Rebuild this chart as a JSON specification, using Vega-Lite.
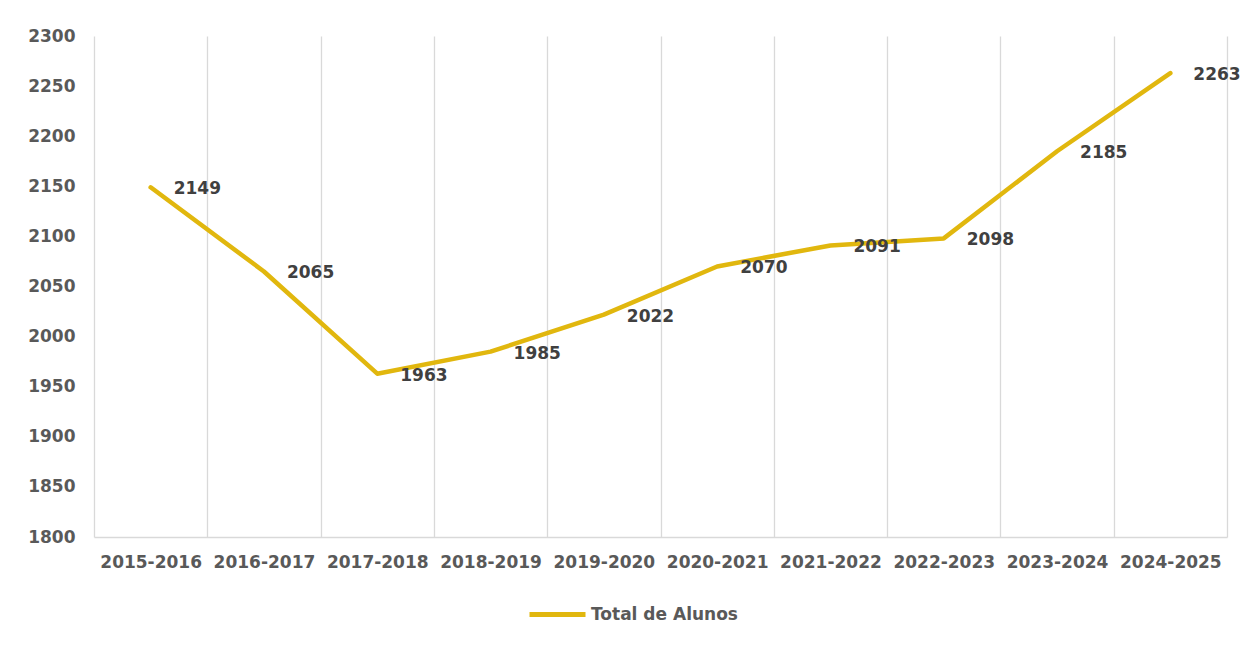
{
  "$schema": "https://vega.github.io/schema/vega-lite/v6.json",
  "width": 1133,
  "height": 501,
  "autosize": {"type": "none"},
  "padding": {"left": 94, "top": 36, "right": 28, "bottom": 109},
  "background": "white",
  "config": {
    "view": {"stroke": null},
    "font": "DejaVu Sans"
  },
  "data": {
    "values": [
      {"ano": "2015-2016", "alunos": 2149, "serie": "Total de Alunos"},
      {"ano": "2016-2017", "alunos": 2065, "serie": "Total de Alunos"},
      {"ano": "2017-2018", "alunos": 1963, "serie": "Total de Alunos"},
      {"ano": "2018-2019", "alunos": 1985, "serie": "Total de Alunos"},
      {"ano": "2019-2020", "alunos": 2022, "serie": "Total de Alunos"},
      {"ano": "2020-2021", "alunos": 2070, "serie": "Total de Alunos"},
      {"ano": "2021-2022", "alunos": 2091, "serie": "Total de Alunos"},
      {"ano": "2022-2023", "alunos": 2098, "serie": "Total de Alunos"},
      {"ano": "2023-2024", "alunos": 2185, "serie": "Total de Alunos"},
      {"ano": "2024-2025", "alunos": 2263, "serie": "Total de Alunos"}
    ]
  },
  "encoding": {
    "x": {
      "field": "ano",
      "type": "nominal",
      "sort": null,
      "scale": {"paddingInner": 0, "paddingOuter": 0},
      "axis": {
        "title": null,
        "labelAngle": 0,
        "tickBand": "extent",
        "ticks": false,
        "grid": true,
        "gridColor": "#D9D9D9",
        "gridWidth": 1.3,
        "domainColor": "#D9D9D9",
        "domainWidth": 1.3,
        "labelFont": "DejaVu Sans",
        "labelFontSize": 17,
        "labelFontWeight": "bold",
        "labelColor": "#595959",
        "labelPadding": 17
      }
    },
    "y": {
      "field": "alunos",
      "type": "quantitative",
      "scale": {"domain": [1800, 2300], "nice": false, "zero": false},
      "axis": {
        "title": null,
        "format": "d",
        "values": [1800, 1850, 1900, 1950, 2000, 2050, 2100, 2150, 2200, 2250, 2300],
        "grid": false,
        "domain": false,
        "ticks": false,
        "labelFont": "DejaVu Sans",
        "labelFontSize": 17,
        "labelFontWeight": "bold",
        "labelColor": "#595959",
        "labelPadding": 19
      }
    }
  },
  "layer": [
    {
      "mark": {"type": "line", "strokeWidth": 4.5, "strokeCap": "round", "strokeJoin": "round"},
      "encoding": {
        "color": {
          "field": "serie",
          "type": "nominal",
          "scale": {"range": ["#E1B70E"]},
          "legend": {
            "title": null,
            "orient": "none",
            "legendX": 433,
            "legendY": 548,
            "symbolType": "stroke",
            "symbolSize": 3136,
            "symbolStrokeWidth": 5,
            "labelFont": "DejaVu Sans",
            "labelFontSize": 17,
            "labelFontWeight": "bold",
            "labelColor": "#595959",
            "labelOffset": 3
          }
        }
      }
    },
    {
      "mark": {"type": "text", "align": "left", "baseline": "middle", "dx": 23, "dy": 2, "fontSize": 17, "fontWeight": "bold", "color": "#404040", "font": "DejaVu Sans"},
      "encoding": {
        "text": {"field": "alunos", "type": "quantitative", "format": "d"}
      }
    }
  ]
}
